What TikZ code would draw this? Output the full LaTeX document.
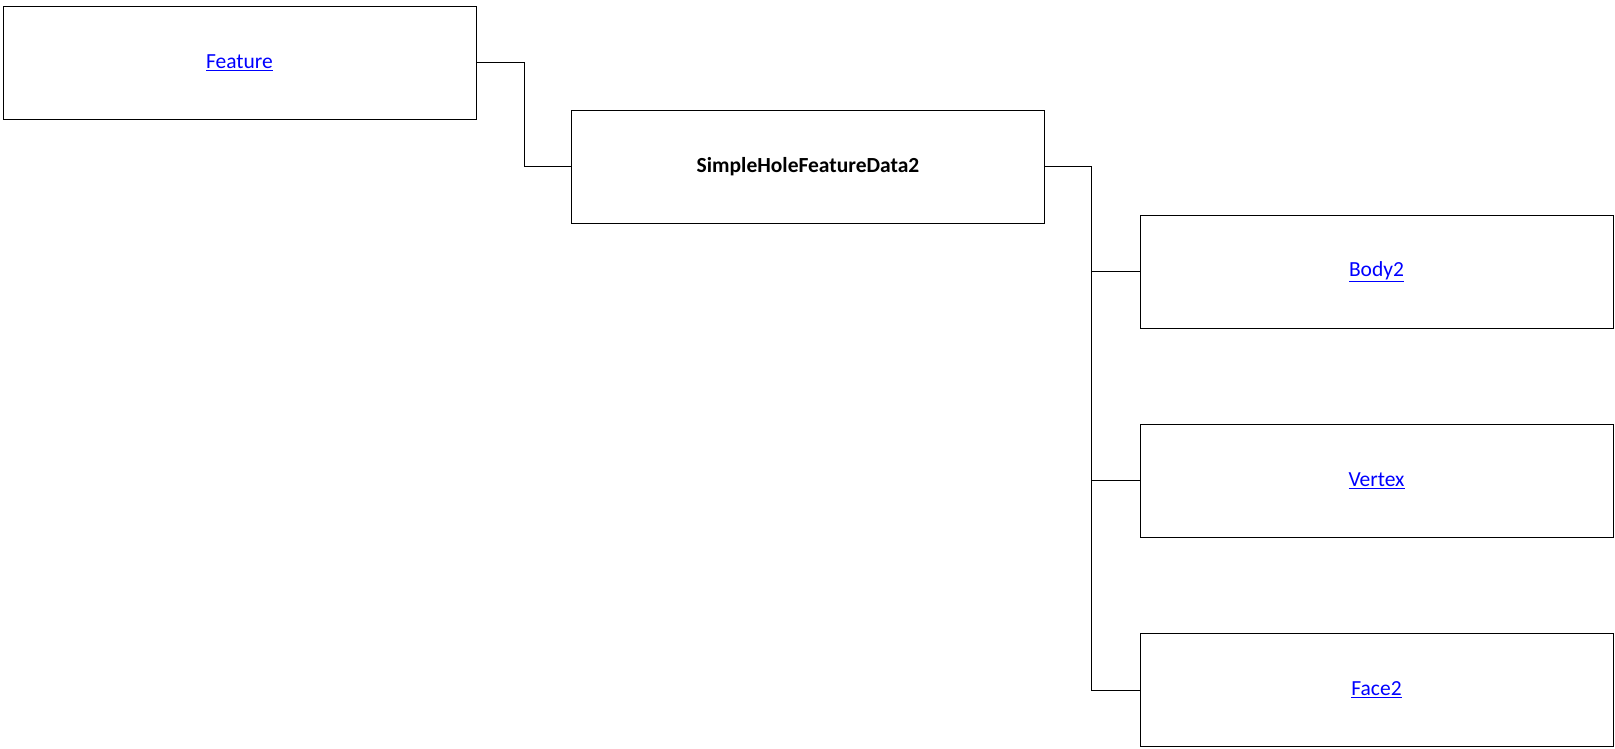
\documentclass[tikz,border=0pt]{standalone}
\usepackage{fontspec}
\setmainfont{Carlito}
\usepackage{xcolor}
\usepackage{tikz}

\definecolor{linkblue}{RGB}{0,0,255}

\begin{document}
\begin{tikzpicture}[
    x=1pt, y=-1pt,
    box/.style={rectangle, draw, line width=1pt, minimum width=473pt, minimum height=113pt, font=\fontsize{21.5}{26}\selectfont},
    link/.style={line width=1pt},
    ref/.style={box, text=linkblue}
]
    \useasboundingbox (0,0) rectangle (1615,749);

    % Parent
    \node[ref] (feature) at (239.5, 62.9) {\underline{Feature}};

    % This class
    \node[box, font=\fontsize{21.5}{26}\selectfont\bfseries] (holedata) at (808, 166.9) {SimpleHoleFeatureData2};

    % Children
    \node[ref] (body) at (1376.5, 271.9) {\underline{Body2}};
    \node[ref] (vertex) at (1376.5, 480.8) {\underline{Vertex}};
    \node[ref] (face) at (1376.5, 690) {\underline{Face2}};

    % Connectors
    \coordinate (upjoint) at (524.3, 62.9);
    \coordinate (trunk) at (1091.8, 166.9);
    \draw[link] (feature.east) -- (upjoint) |- (holedata.west);
    \draw[link] (holedata.east) -- (trunk) |- (body.west);
    \draw[link] (trunk) |- (vertex.west);
    \draw[link] (trunk) |- (face.west);
\end{tikzpicture}
\end{document}
